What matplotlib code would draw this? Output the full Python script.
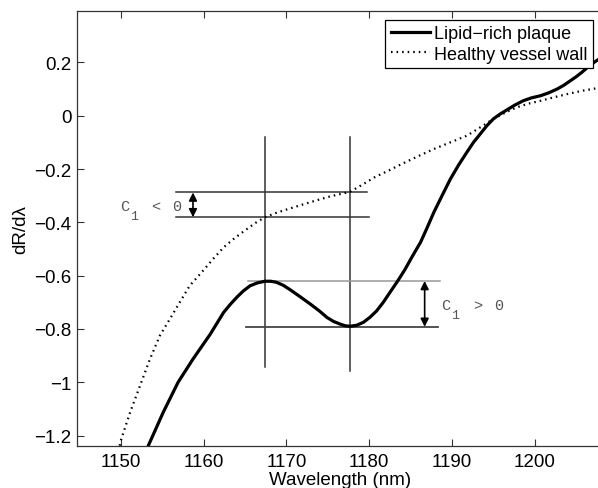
import numpy as np
import matplotlib
matplotlib.use('Agg')
import matplotlib.pyplot as plt

plt.rcParams['font.family'] = ['Liberation Sans', 'DejaVu Sans']
plt.rcParams['axes.unicode_minus'] = True

# lipid-rich plaque (solid)
PLAQUE_WL = [1152.9, 1153.3, 1155.1, 1156.9, 1158.7, 1160.8, 1162.4, 1163.2, 1164.0,
             1164.8, 1165.6, 1166.5, 1167.4, 1168.1, 1168.8, 1169.6, 1170.4, 1171.6,
             1172.9, 1174.0, 1174.9, 1175.7, 1176.5, 1177.1, 1177.7, 1178.5, 1179.3,
             1180.1, 1180.9, 1181.7, 1182.5, 1183.4, 1184.3, 1185.2, 1186.2, 1187.0,
             1187.8, 1188.8, 1189.8, 1190.8, 1191.8, 1192.6, 1193.4, 1194.2, 1195.0,
             1195.8, 1196.6, 1197.6, 1198.6, 1199.6, 1200.7, 1201.7, 1202.7, 1203.5,
             1204.3, 1205.0, 1205.7, 1206.7, 1207.5, 1208.4]
PLAQUE_D = [-1.30, -1.238, -1.113, -1.000, -0.913, -0.819, -0.738, -0.708, -0.681,
            -0.657, -0.638, -0.627, -0.621, -0.621, -0.625, -0.636, -0.652, -0.678,
            -0.707, -0.733, -0.757, -0.772, -0.782, -0.788, -0.790, -0.786, -0.775,
            -0.756, -0.732, -0.700, -0.663, -0.622, -0.578, -0.528, -0.475, -0.420,
            -0.363, -0.300, -0.238, -0.185, -0.137, -0.100, -0.069, -0.038, -0.012,
            0.006, 0.021, 0.040, 0.056, 0.067, 0.075, 0.086, 0.100, 0.114,
            0.131, 0.146, 0.163, 0.190, 0.207, 0.225]

# healthy vessel wall (dotted)
HEALTHY_WL = [1149.6, 1149.9, 1151.1, 1152.3, 1153.5, 1154.7, 1155.9, 1157.1, 1158.3,
              1159.9, 1161.2, 1162.4, 1163.7, 1165.0, 1166.2, 1167.4, 1168.7, 1170.0,
              1172.5, 1175.0, 1177.7, 1179.2, 1180.7, 1182.4, 1184.0, 1185.9, 1187.8,
              1189.8, 1191.8, 1193.4, 1195.0, 1196.4, 1197.8, 1199.2, 1200.7, 1202.3,
              1203.9, 1205.8, 1208.4]
HEALTHY_D = [-1.30, -1.226, -1.113, -1.013, -0.913, -0.825, -0.763, -0.700, -0.638,
             -0.582, -0.535, -0.494, -0.460, -0.430, -0.403, -0.381, -0.365, -0.352,
             -0.328, -0.305, -0.285, -0.258, -0.230, -0.205, -0.180, -0.152, -0.125,
             -0.100, -0.075, -0.044, -0.012, 0.011, 0.031, 0.045, 0.056, 0.069,
             0.081, 0.094, 0.108]

# markers for the C1 construction
MARK_WL = [1167.4, 1177.7]
MARK_YSPAN = [(-0.079, -0.942), (-0.081, -0.957)]
C1_NEG = [-0.288, -0.381]   # healthy at the two wavelengths
C1_POS = [-0.620, -0.792]   # plaque at the two wavelengths

fig = plt.figure(figsize=(5.98, 4.89), dpi=100)
ax = fig.add_axes([0.129, 0.0865, 0.88, 0.889])

ax.plot(PLAQUE_WL, PLAQUE_D, color='black', lw=2.3, label='Lipid\u2212rich plaque',
        solid_joinstyle='round', zorder=3)
ax.plot(HEALTHY_WL, HEALTHY_D, color='black', lw=1.6, linestyle=(0, (0.7, 1.8)),
        label='Healthy vessel wall', zorder=3)

# vertical marker lines
for wl, (y0, y1) in zip(MARK_WL, MARK_YSPAN):
    ax.plot([wl, wl], [y0, y1], color='#333333', lw=1.1, zorder=2)

# horizontal level lines
ax.plot([1156.6, 1179.7], [C1_NEG[0]] * 2, color='#333333', lw=1.1, zorder=2)
ax.plot([1156.6, 1180.0], [C1_NEG[1]] * 2, color='#333333', lw=1.1, zorder=2)
ax.plot([1165.4, 1188.6], [C1_POS[0]] * 2, color='#999999', lw=1.1, zorder=2)
ax.plot([1165.1, 1188.3], [C1_POS[1]] * 2, color='#444444', lw=1.3, zorder=2)

# double arrows
for x, (ya, yb) in [(1158.7, C1_NEG), (1186.7, C1_POS)]:
    ax.annotate('', xy=(x, ya), xytext=(x, yb),
                arrowprops=dict(arrowstyle='<|-|>', color='black', lw=1.2,
                                mutation_scale=12, shrinkA=0, shrinkB=0))

# C1 labels (courier)
mono = dict(family='Liberation Mono', color='#555555', ha='left', va='center')
def c1_label(x_c, x_rel, x_zero, y, rel):
    ax.text(x_c, y, 'C', fontsize=11, **mono)
    ax.text(x_c + 1.15, y - 0.037, '1', fontsize=9.5, **mono)
    ax.text(x_rel, y, rel, fontsize=11, **mono)
    ax.text(x_zero, y, '0', fontsize=11, **mono)

c1_label(1149.9, 1153.6, 1156.2, -0.338, '<')
c1_label(1188.7, 1192.5, 1195.1, -0.710, '>')

ax.set_xlim(1144.7, 1208.3)
ax.set_ylim(-1.238, 0.393)
ax.set_xticks([1150, 1160, 1170, 1180, 1190, 1200])
ax.set_yticks([-1.2, -1, -0.8, -0.6, -0.4, -0.2, 0, 0.2])
ax.set_yticklabels(['\u22121.2', '\u22121', '\u22120.8', '\u22120.6', '\u22120.4',
                    '\u22120.2', '0', '0.2'])
ax.tick_params(direction='in', top=True, right=False, length=5, width=0.8,
               labelsize=13.5, pad=5, color='#333333')
ax.tick_params(axis='y', pad=4)
for sp in ax.spines.values():
    sp.set_color('#333333')
    sp.set_linewidth(0.9)

ax.set_xlabel('Wavelength (nm)', fontsize=13.5, labelpad=1)
ax.set_ylabel('dR/d\u03bb', fontsize=13.5, labelpad=4)

leg = ax.legend(loc='upper right', bbox_to_anchor=(593 / 598, 1 - 20.7 / 489),
                bbox_transform=fig.transFigure, fontsize=13, frameon=True,
                fancybox=False, borderpad=0.3, labelspacing=0.2,
                handlelength=2.2, handletextpad=0.2, borderaxespad=0)
leg.get_frame().set_edgecolor('black')
leg.get_frame().set_linewidth(0.9)
leg.get_frame().set_alpha(1)

fig.savefig('out.png', dpi=100)
